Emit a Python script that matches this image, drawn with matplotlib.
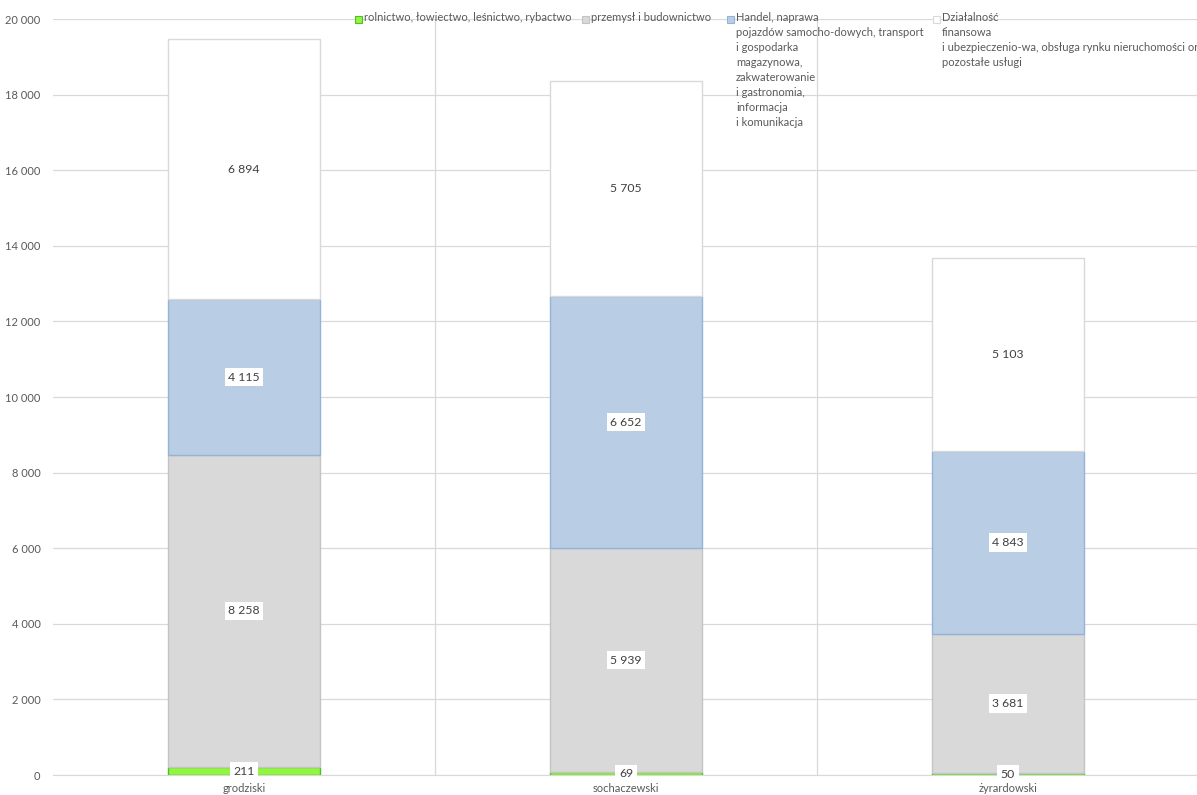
import matplotlib
matplotlib.use("Agg")
import matplotlib.pyplot as plt
from matplotlib.patches import Rectangle
import numpy as np

categories = ["grodziski", "sochaczewski", "żyrardowski"]
rolnictwo = [211, 69, 50]
przemysl = [8258, 5939, 3681]
handel = [4115, 6652, 4843]
dzialalnosc = [6894, 5705, 5103]

series_names = [
    "rolnictwo, łowiectwo, leśnictwo, rybactwo",
    "przemysł i budownictwo",
    "Handel, naprawa\npojazdów samocho-dowych, transport\ni gospodarka\nmagazynowa,\nzakwaterowanie\ni gastronomia,\ninformacja\ni komunikacja",
    "Działalność\nfinansowa\ni ubezpieczenio-wa, obsługa rynku nieruchomości oraz\npozostałe usługi",
]
series_values = [rolnictwo, przemysl, handel, dzialalnosc]
face_colors = ["#92F53F", "#D9D9D9", "#B9CDE5", "#FFFFFF"]
edge_colors = ["#4DBF2A", "#C4C4C4", "#95B3D7", "#D9D9D9"]

plt.rcParams['font.family'] = ['Lato', 'DejaVu Sans']

W, H = 1197, 795
fig = plt.figure(figsize=(W / 100, H / 100), dpi=100)
ax = fig.add_axes([53 / W, 1 - 775 / H, (1199 - 53) / W, (775 - 19) / H])

x = np.arange(len(categories))
bottom = np.zeros(len(categories))
for vals, fc, ec in zip(series_values, face_colors, edge_colors):
    vals = np.array(vals, dtype=float)
    ax.bar(x, vals, width=0.4, bottom=bottom, color=fc, edgecolor=ec, linewidth=1.0, zorder=3)
    for xi, b, v in zip(x, bottom, vals):
        ax.text(xi, b + v / 2, f"{int(v):,}".replace(",", " "), ha="center", va="center",
                fontsize=8.8, color="#404040", zorder=5,
                bbox=dict(boxstyle="square,pad=0.3", facecolor="white", edgecolor="none"))
    bottom += vals

ax.set_xlim(-0.5, 2.5)
ax.set_ylim(0, 20000)
ax.set_yticks(np.arange(0, 20001, 2000))
ax.set_yticklabels([f"{v:,}".replace(",", " ") for v in range(0, 20001, 2000)])
ax.set_xticks(x)
ax.set_xticklabels(categories)
ax.set_xticks([0.5, 1.5], minor=True)
ax.grid(axis="y", which="major", color="#D9D9D9", linewidth=0.9, zorder=0)
ax.grid(axis="x", which="minor", color="#D9D9D9", linewidth=0.9, zorder=0)
ax.tick_params(axis="both", which="both", length=0, labelsize=8, colors="#595959")
ax.tick_params(axis="y", pad=9)
ax.tick_params(axis="x", pad=6)
for s in ["top", "right", "left"]:
    ax.spines[s].set_visible(False)
ax.spines["bottom"].set_color("#D9D9D9")
ax.set_axisbelow(True)

# legend (manual layout at top)
marker_x = [355, 582, 727, 933]
for mx, name, fc, ec in zip(marker_x, series_names, face_colors, edge_colors):
    fig.patches.append(Rectangle((mx / W, 1 - 23 / H), 7 / W, 7 / H, transform=fig.transFigure,
                                 facecolor=fc, edgecolor=ec, linewidth=0.8, zorder=10))
    fig.text((mx + 9) / W, 1 - 12 / H, name, ha="left", va="top", fontsize=8.0,
             color="#595959", linespacing=1.45, zorder=10)

fig.savefig("out.png", dpi=100, facecolor="white")
